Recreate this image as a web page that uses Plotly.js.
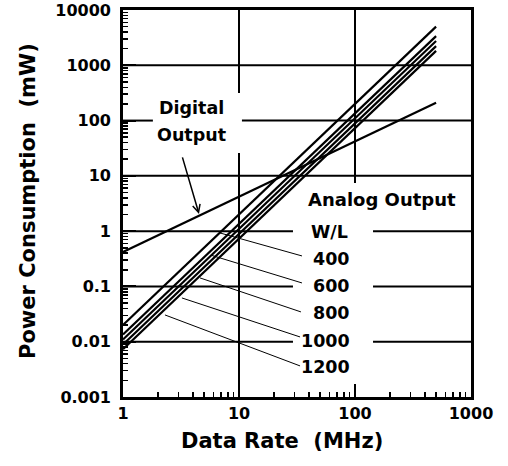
<!DOCTYPE html>
<html>
<head>
<meta charset="utf-8">
<script src="https://cdn.plot.ly/plotly-3.0.1.min.js"></script>
<style>html,body{margin:0;padding:0;background:#fff;}#chart{width:508px;height:466px;}</style>
</head>
<body>
<div id="chart"></div>
<script>
// ---- data ----
var rateEnds = [1, 500];                 // MHz, start and end of each line
var analogWL = ['400', '600', '800', '1000', '1200'];
var analog400  = [0.0200, 5000];
var analog600  = [0.0135, 3375];
var analog800  = [0.0110, 2750];
var analog1000 = [0.0089, 2225];
var analog1200 = [0.0073, 1825];
var digitalOut = [0.42, 210];
var xTickVals = [1, 10, 100, 1000];
var xTickText = ['1', '10', '100', '1000'];
var yTickVals = [0.001, 0.01, 0.1, 1, 10, 100, 1000, 10000];
var yTickText = ['0.001', '0.01', '0.1', '1', '10', '100', '1000', '10000'];

var FONT = 'DejaVu Sans, Arial, sans-serif';
var lg = Math.log10;

function minorVals(lo, hi) {
  var v = [];
  for (var e = lo; e < hi; e++) for (var d = 2; d <= 9; d++) v.push(d * Math.pow(10, e));
  return v;
}

var traces = [];
// interrupted grid lines (decoration)
var gridSegs = [
  {x: [1, 1000], y: [1000, 1000]},
  {x: [1, 1.81], y: [100, 100]}, {x: [10.6, 1000], y: [100, 100]},
  {x: [1, 1000], y: [10, 10]},
  {x: [1, 29.2], y: [1, 1]}, {x: [143, 1000], y: [1, 1]},
  {x: [1, 29.2], y: [0.1, 0.1]}, {x: [143, 1000], y: [0.1, 0.1]},
  {x: [1, 29.2], y: [0.01, 0.01]}, {x: [143, 1000], y: [0.01, 0.01]},
  {x: [10, 10], y: [10000, 316]}, {x: [10, 10], y: [26, 0.001]},
  {x: [100, 100], y: [10000, 7.4]}
];
gridSegs.forEach(function (s) {
  traces.push({x: s.x, y: s.y, mode: 'lines', line: {color: '#000', width: 2}, hoverinfo: 'skip', showlegend: false});
});
// leader lines from curves to W/L labels (decoration)
var leaders = [
  {x: [6.86, 34.9], y: [0.927, 0.356]},
  {x: [5.8, 34.9], y: [0.365, 0.1156]},
  {x: [4.61, 34.2], y: [0.1426, 0.0346]},
  {x: [3.22, 33.6], y: [0.0619, 0.0122]},
  {x: [2.30, 33.6], y: [0.0305, 0.00365]}
];
leaders.forEach(function (s) {
  traces.push({x: s.x, y: s.y, mode: 'lines', line: {color: '#000', width: 1}, hoverinfo: 'skip', showlegend: false});
});
[analog400, analog600, analog800, analog1000, analog1200].forEach(function (ys, i) {
  traces.push({x: rateEnds, y: ys, name: 'W/L ' + analogWL[i], mode: 'lines', line: {color: '#000', width: 2.2}, showlegend: false});
});
traces.push({x: rateEnds, y: digitalOut, name: 'Digital Output', mode: 'lines', line: {color: '#000', width: 2.2}, showlegend: false});

var tf = {family: FONT, size: 16, color: '#000', weight: 700};
var af = {family: FONT, size: 17.5, color: '#000', weight: 700};
var ttf = {family: FONT, size: 21, color: '#000', weight: 700};

function txt(t, x, y, xanchor, f) {
  return {text: t, x: lg(x), y: lg(y), xref: 'x', yref: 'y', showarrow: false, font: f || af, xanchor: xanchor || 'center', yanchor: 'middle'};
}
var annotations = [
  txt('Digital', 3.9, 169),
  txt('Output', 3.9, 55),
  txt('Analog Output', 171, 3.66, 'center', {family: FONT, size: 18, color: '#000', weight: 700}),
  txt('W/L', 59.7, 0.97),
  txt(analogWL[0], 95, 0.314, 'right'),
  txt(analogWL[1], 95, 0.102, 'right'),
  txt(analogWL[2], 95, 0.0332, 'right'),
  txt(analogWL[3], 95, 0.0103, 'right'),
  txt(analogWL[4], 95, 0.0035, 'right'),
  {text: '', x: lg(4.52), y: lg(2.05), xref: 'x', yref: 'y', showarrow: true, ax: -17, ay: -58,
   arrowhead: 5, arrowsize: 1, arrowwidth: 1.5, arrowcolor: '#000', standoff: 0},
  // axis titles
  {text: 'Data Rate&nbsp; (MHz)', xref: 'paper', yref: 'paper', x: (282 - 123) / 348, y: -(441 - 397) / 387,
   xanchor: 'center', yanchor: 'middle', showarrow: false, font: ttf},
  {text: 'Power Consumption&nbsp; (mW)', xref: 'paper', yref: 'paper', x: -(123 - 28) / 348, y: (397 - 201) / 387,
   xanchor: 'center', yanchor: 'middle', textangle: -90, showarrow: false, font: ttf}
];

var layout = {
  width: 508, height: 466,
  margin: {l: 123, r: 37, t: 10, b: 69},
  paper_bgcolor: '#fff', plot_bgcolor: '#fff',
  showlegend: false,
  font: {family: FONT, color: '#000'},
  xaxis: {
    type: 'log', range: [0, 3], tickmode: 'array', tickvals: xTickVals, ticktext: xTickText,
    ticks: 'inside', ticklen: 13, tickwidth: 2, tickcolor: '#000',
    showgrid: false, zeroline: false, showline: true, linewidth: 2.8, linecolor: '#000', mirror: true,
    tickfont: tf, ticklabelstandoff: 0,
    minor: {tickmode: 'array', tickvals: minorVals(0, 3), ticks: 'inside', ticklen: 5, tickwidth: 1.5, tickcolor: '#000', showgrid: false}
  },
  yaxis: {
    type: 'log', range: [-3, 4], tickmode: 'array', tickvals: yTickVals, ticktext: yTickText,
    ticks: 'inside', ticklen: 13, tickwidth: 2, tickcolor: '#000',
    showgrid: false, zeroline: false, showline: true, linewidth: 2.8, linecolor: '#000', mirror: true,
    tickfont: tf, ticklabelstandoff: 6,
    minor: {tickmode: 'array', tickvals: minorVals(-3, 4), ticks: 'inside', ticklen: 5, tickwidth: 1.5, tickcolor: '#000', showgrid: false}
  },
  annotations: annotations
};

Plotly.newPlot('chart', traces, layout, {staticPlot: true, displayModeBar: false});
</script>
</body>
</html>
